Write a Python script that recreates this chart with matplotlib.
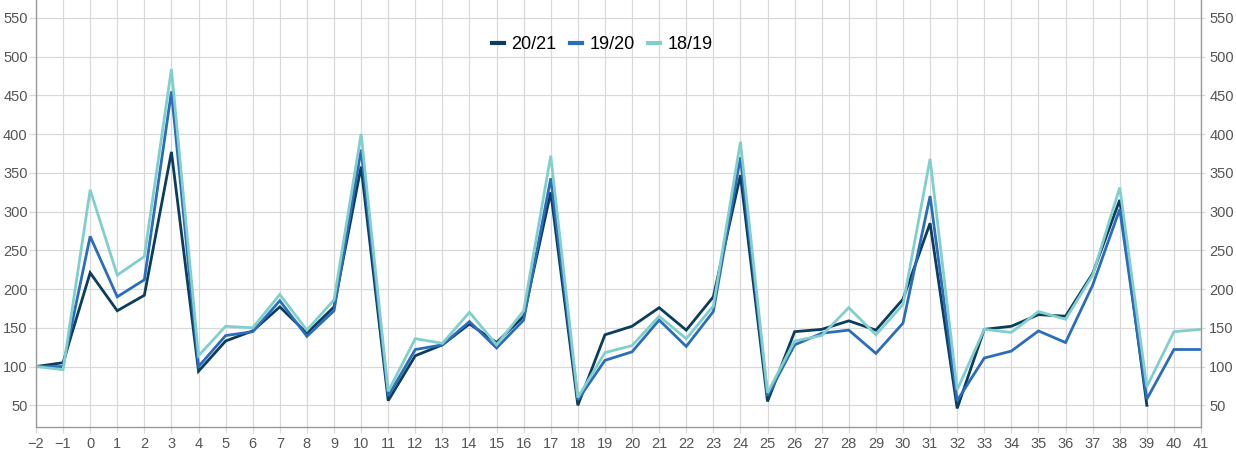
import numpy as np
import matplotlib.pyplot as plt

plt.rcParams['font.family'] = ['Liberation Sans', 'DejaVu Sans']

# === Data ===
weeks = list(range(-2, 42))

season_2021 = [100, 105, 221, 172, 192, 377, 94, 133, 146, 177, 143, 177,
               358, 56, 114, 128, 155, 131, 165, 325, 50, 141, 152, 176,
               147, 190, 347, 55, 145, 148, 159, 147, 187, 285, 46, 148,
               152, 167, 165, 220, 315, 50]
season_1920 = [100, 100, 268, 190, 212, 455, 100, 140, 145, 185, 139, 172,
               380, 62, 122, 128, 158, 124, 160, 343, 57, 108, 119, 160,
               126, 171, 370, 62, 128, 143, 147, 117, 156, 320, 56, 111,
               120, 146, 131, 205, 303, 58, 122, 122]
season_1819 = [100, 96, 328, 218, 242, 484, 114, 152, 150, 193, 147, 186,
               400, 68, 136, 130, 170, 128, 172, 372, 60, 118, 127, 165,
               136, 178, 390, 66, 133, 140, 176, 141, 180, 368, 70, 148,
               144, 171, 161, 218, 331, 74, 145, 148]

labels = ['20/21', '19/20', '18/19']
colors = ['#0b3d5c', '#2b6cbb', '#80cfcc']

# === Plot ===
fig = plt.figure(figsize=(12.36, 4.51), dpi=100)
ax = fig.add_axes([0.0291, 0.0532, 0.9426, 0.9468])

series = [season_2021, season_1920, season_1819]
lines = []
for vals, lab, col in zip(series, labels, colors):
    ln, = ax.plot(weeks[:len(vals)], vals, color=col, linewidth=2.0, label=lab,
                  solid_joinstyle='miter')
    lines.append(ln)

ax.set_xlim(-2, 41)
ax.set_ylim(22, 573)
ax.set_xticks(weeks)
ax.set_yticks(np.arange(50, 551, 50))

ax.grid(True, color='#d9d9d9', linewidth=0.9)
ax.set_axisbelow(True)

for side in ['left', 'bottom', 'right']:
    ax.spines[side].set_color('#9a9a9a')
    ax.spines[side].set_linewidth(1.0)
ax.spines['top'].set_visible(False)

# grid-coloured tick stubs outside the axes, like the reference
ax.tick_params(axis='both', colors='#d9d9d9', labelcolor='#555555',
               labelsize=10.5, width=0.9)
ax.tick_params(axis='y', which='both', left=True, right=True, labelright=True)
ax.yaxis.set_tick_params(which='major', length=5, pad=1)
for t in ax.yaxis.get_major_ticks():
    t.tick2line.set_markersize(3)
ax.tick_params(axis='x', length=4, pad=3)

leg = ax.legend(handles=lines, loc='upper center', bbox_to_anchor=(0.486, 0.953),
                ncol=3, frameon=False, fontsize=13, handlelength=0.68,
                handletextpad=0.4, columnspacing=0.75)
for h in leg.get_lines():
    h.set_linewidth(3)

fig.savefig('out.png', dpi=100)
